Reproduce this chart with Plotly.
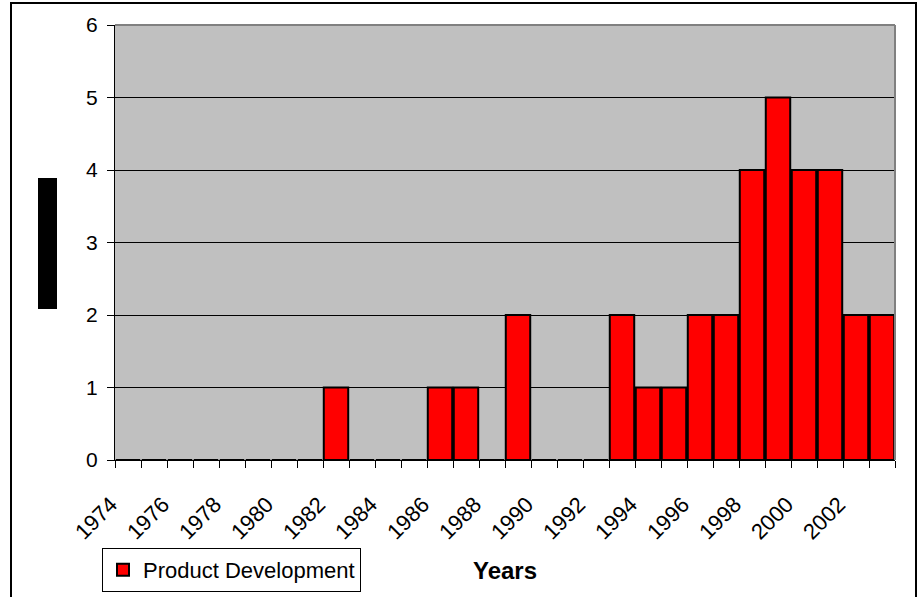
import plotly.graph_objects as go

years = [1974, 1975, 1976, 1977, 1978, 1979, 1980, 1981, 1982, 1983,
         1984, 1985, 1986, 1987, 1988, 1989, 1990, 1991, 1992, 1993,
         1994, 1995, 1996, 1997, 1998, 1999, 2000, 2001, 2002, 2003]
product_development = [0, 0, 0, 0, 0, 0, 0, 0, 1, 0,
                       0, 0, 1, 1, 0, 2, 0, 0, 0, 2,
                       1, 1, 2, 2, 4, 5, 4, 4, 2, 2]
tick_years = [1974, 1976, 1978, 1980, 1982, 1984, 1986, 1988, 1990,
              1992, 1994, 1996, 1998, 2000, 2002]
tick_labels = [str(y) for y in tick_years]
series_name = "Product Development"
x_title = "Years"

FONT = "Arial, Liberation Sans, sans-serif"

fig = go.Figure()
fig.add_trace(go.Bar(
    x=years, y=product_development, name=series_name,
    marker=dict(color="#FF0000", line=dict(color="black", width=2)),
    showlegend=True,
))

W, H = 918, 597
L, R, T, B = 115, 23, 25, 137
pw, ph = W - L - R, H - T - B

def px_x(x):
    return (x - L) / pw

def px_y(y):
    return (H - B - y) / ph

fig.update_layout(
    width=W, height=H,
    margin=dict(l=L, r=R, t=T, b=B, autoexpand=False),
    paper_bgcolor="white",
    plot_bgcolor="#C0C0C0",
    bargap=0.06,
    font=dict(family=FONT, color="black", size=20),
    xaxis=dict(
        range=[years[0] - 0.5, years[-1] + 0.5],
        tickmode="array", tickvals=tick_years, ticktext=tick_labels,
        tickangle=-45, ticks="", showgrid=False,
        showline=True, linecolor="black", linewidth=1,
        ticklabelstandoff=22, ticklabelshift=-17,
        tickfont=dict(size=22),
        minor=dict(tickmode="linear", tick0=years[0] - 0.5, dtick=1,
                   ticks="outside", ticklen=7, tickcolor="black", showgrid=False),
        title=dict(text="<b>" + x_title + "</b>", font=dict(size=24), standoff=18),
        zeroline=False, fixedrange=True, automargin=False,
    ),
    yaxis=dict(
        range=[0, 6], dtick=1, tick0=0,
        ticks="outside", ticklen=7, tickcolor="black",
        showgrid=True, gridcolor="black", gridwidth=1,
        showline=True, linecolor="black", linewidth=1,
        tickfont=dict(size=21), ticklabelstandoff=5,
        zeroline=False, automargin=False, fixedrange=True,
    ),
    legend=dict(
        x=px_x(102), y=px_y(548), xanchor="left", yanchor="top",
        bordercolor="black", borderwidth=1, bgcolor="white",
        font=dict(size=22), itemwidth=30,
    ),
    shapes=[
        dict(type="line", xref="paper", yref="paper", x0=0, x1=1, y0=1, y1=1,
             line=dict(color="#808080", width=2)),
        dict(type="line", xref="paper", yref="paper", x0=1, x1=1, y0=0, y1=1,
             line=dict(color="#808080", width=2)),
        dict(type="rect", xref="paper", yref="paper",
             x0=px_x(11), x1=px_x(916), y0=px_y(610), y1=px_y(3),
             line=dict(color="black", width=2), layer="below"),
        dict(type="rect", xref="paper", yref="paper",
             x0=px_x(38), x1=px_x(57), y0=px_y(309), y1=px_y(178),
             fillcolor="black", line=dict(width=0)),
    ],
)

fig.write_html(
    "out.html",
    config={"displayModeBar": False},
    post_script="document.body.style.margin='0';document.body.style.overflow='hidden';",
)
